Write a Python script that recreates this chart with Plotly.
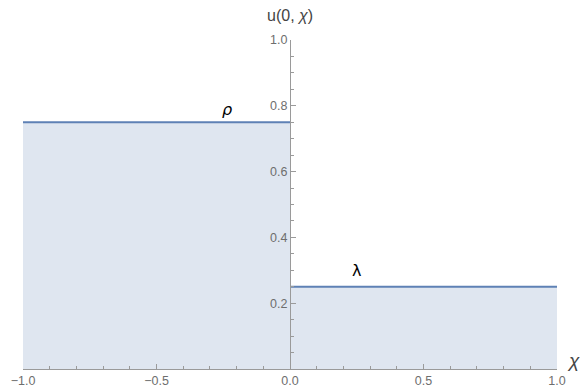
import plotly.graph_objects as go

# data
left_x = [-1.0, 0.0]
left_u = [0.75, 0.75]
right_x = [0.0, 1.0]
right_u = [0.25, 0.25]
x_ticks = [-1.0, -0.5, 0.0, 0.5, 1.0]
x_tick_labels = ["\u22121.0", "\u22120.5", "0.0", "0.5", "1.0"]
y_ticks = [0.2, 0.4, 0.6, 0.8, 1.0]
y_tick_labels = ["0.2", "0.4", "0.6", "0.8", "1.0"]
labels = [("<i>ρ</i>", -0.235, 0.79), ("λ", 0.25, 0.30)]

line_col = "#5e81b5"
fill_col = "rgba(94,129,181,0.2)"
axis_col = "#9a9a9a"
tick_font = dict(family="Liberation Sans, Arial, sans-serif", size=12.5, color="#6e6e6e")

fig = go.Figure()
for xs, ys in [(left_x, left_u), (right_x, right_u)]:
    fig.add_trace(go.Scatter(x=xs, y=ys, mode="lines", fill="tozeroy",
                             fillcolor=fill_col, line=dict(color=line_col, width=2),
                             hoverinfo="skip", showlegend=False))

for txt, lx, ly in labels:
    fig.add_annotation(x=lx, y=ly, text=txt, showarrow=False,
                       font=dict(family="DejaVu Sans, sans-serif", size=16, color="black"),
                       xanchor="center", yanchor="middle")

fig.add_annotation(x=0, y=1.0, xref="x", yref="paper", text="u(0, <i>χ</i>)", showarrow=False,
                   yshift=14, font=dict(family="Liberation Sans, Arial, sans-serif", size=16, color="#444"),
                   xanchor="center", yanchor="bottom")
fig.add_annotation(x=1.0, y=0, xref="x", yref="y", text="<i>χ</i>", showarrow=False,
                   xshift=8, yshift=9, font=dict(family="Liberation Sans, Arial, sans-serif", size=19, color="#444"),
                   xanchor="left", yanchor="middle")

fig.update_layout(
    width=584, height=390,
    margin=dict(l=23, r=27, t=40, b=21),
    plot_bgcolor="white", paper_bgcolor="white",
    xaxis=dict(range=[-1, 1], showgrid=False, zeroline=False, automargin=False,
               showline=True, linecolor=axis_col, linewidth=1,
               ticks="inside", ticklen=5, tickcolor=axis_col,
               tickvals=x_ticks, ticktext=x_tick_labels, tickfont=tick_font,
               ticklabelstandoff=0,
               minor=dict(ticks="inside", ticklen=3, tickcolor=axis_col, dtick=0.1, tick0=0),
               fixedrange=True),
    yaxis=dict(range=[0, 1], showgrid=False, zeroline=False, automargin=False,
               anchor="free", position=0.5,
               showline=True, linecolor=axis_col, linewidth=1,
               ticks="inside", ticklen=5, tickcolor=axis_col,
               tickvals=y_ticks, ticktext=y_tick_labels, tickfont=tick_font,
               minor=dict(ticks="inside", ticklen=3, tickcolor=axis_col, dtick=0.05, tick0=0),
               fixedrange=True),
)

fig.write_html("out.html", config={"displayModeBar": False},
               post_script="document.body.style.margin='0';document.body.style.padding='0';")
